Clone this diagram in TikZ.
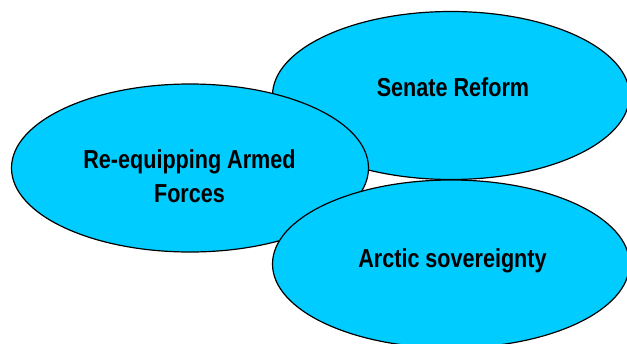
\documentclass[tikz,border=0pt]{standalone}
\usepackage{fontspec}
\usetikzlibrary{shapes.geometric}
\newfontfamily\narrowbold{Liberation Sans Bold}[FakeStretch=0.83]
\definecolor{bubblecyan}{RGB}{0,204,255}
\begin{document}
\begin{tikzpicture}[x=1pt, y=-1pt, bubble/.style={ellipse, draw, fill=bubblecyan, line width=1.2pt, minimum width=357pt, minimum height=168pt, inner sep=0pt}, lbl/.style={font=\narrowbold\fontsize{26}{34}\selectfont, align=center, anchor=base, inner sep=0pt}]
        \useasboundingbox (0, 0) rectangle (627, 343);
        \node[bubble] (senate) at (451, 95.5) {};
        \node[bubble] (armed) at (190, 168) {};
        \node[bubble] (arctic) at (451, 264) {};
        \node[lbl] (senateText) at (453, 96.7) {Senate Reform};
        \node[lbl] (armedText) at (189.5, 202) {Re-equipping Armed\\Forces};
        \node[lbl] (arcticText) at (452.5, 267) {Arctic sovereignty};
    \end{tikzpicture}
\end{document}
